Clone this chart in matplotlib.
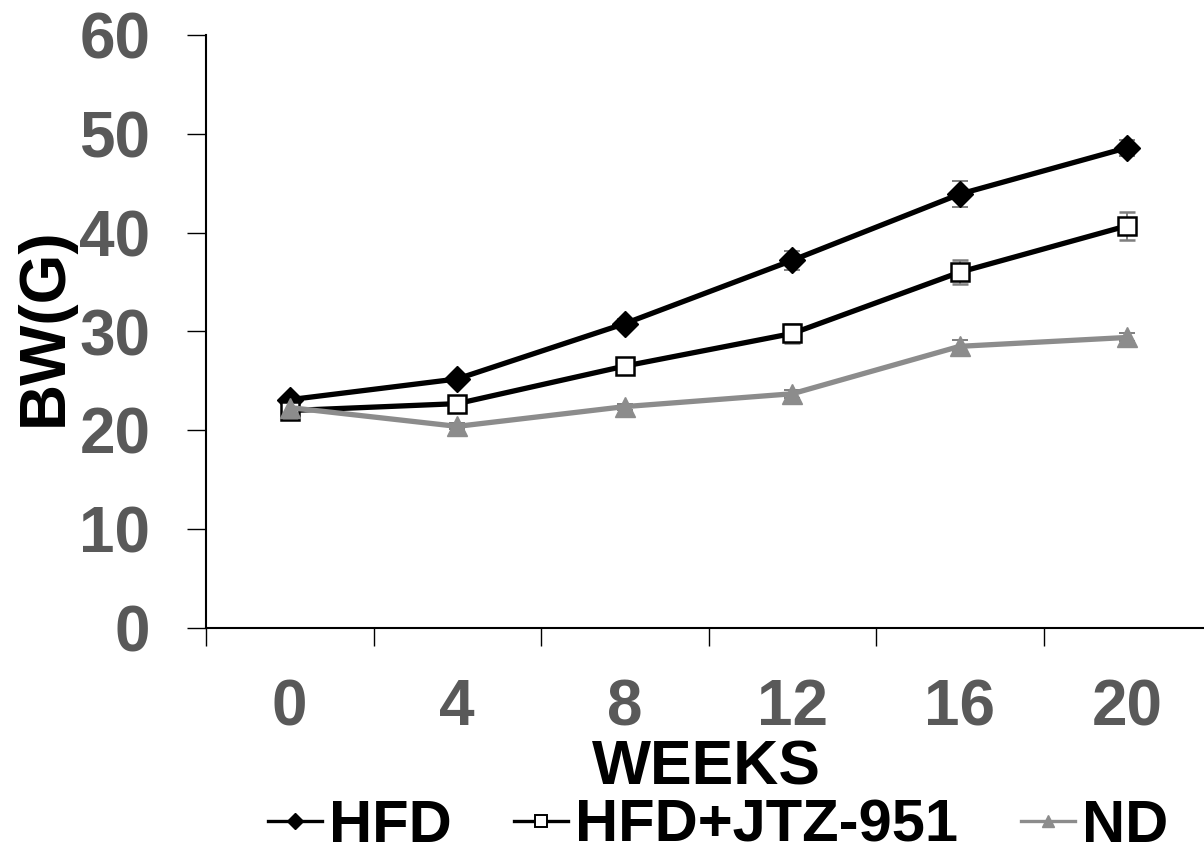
import matplotlib
matplotlib.use("Agg")
import matplotlib.pyplot as plt
from matplotlib.lines import Line2D
import numpy as np

weeks = ["0", "4", "8", "12", "16", "20"]
hfd = [23.1, 25.2, 30.8, 37.2, 43.9, 48.6]
hfd_err = [0.3, 0.3, 0.5, 0.95, 1.3, 0.8]
jtz = [22.0, 22.7, 26.5, 29.8, 36.0, 40.7]
jtz_err = [0.3, 0.3, 0.4, 1.0, 1.2, 1.4]
nd = [22.3, 20.4, 22.4, 23.7, 28.5, 29.4]
nd_err = [0.3, 0.3, 0.3, 0.4, 0.6, 0.4]
series_names = ['HFD', 'HFD+JTZ-951', 'ND']

plt.rcParams['font.family'] = ['Liberation Sans', 'DejaVu Sans']

W, H = 1204, 857
fig = plt.figure(figsize=(W / 100, H / 100), dpi=100)
left, bottom = 206 / W, (H - 628) / H
top = (H - 35) / H
right = 1211 / W
ax = fig.add_axes([left, bottom, right - left, top - bottom])

x = np.arange(len(weeks))
gray_err = '#7f7f7f'
nd_color = '#8c8c8c'

ebkw = dict(ecolor=gray_err, elinewidth=1.4, capsize=5.5, capthick=1.4)
ax.errorbar(x, hfd, yerr=hfd_err, color='black', lw=3.8, marker='D', ms=13,
            mfc='black', mec='black', zorder=3, **ebkw)
ax.errorbar(x, jtz, yerr=jtz_err, color='black', lw=3.8, marker='s', ms=13,
            mfc='white', mec='black', mew=1.8, zorder=3, **ebkw)
ax.errorbar(x, nd, yerr=nd_err, color=nd_color, lw=3.8, marker='^', ms=14,
            mfc=nd_color, mec=nd_color, zorder=3, **ebkw)

ax.set_xlim(-0.5, len(weeks) - 0.5)
ax.set_ylim(0, 60)
ax.set_yticks(np.arange(0, 61, 10))
ax.set_xticks(x)
ax.set_xticklabels(weeks)
ax.set_xticks(np.arange(-0.5, len(weeks), 1.0), minor=True)

for s in ['top', 'right']:
    ax.spines[s].set_visible(False)
for s in ['left', 'bottom']:
    ax.spines[s].set_linewidth(1.5)
    ax.spines[s].set_color('black')

tick_color = '#595959'
ax.tick_params(axis='y', direction='out', length=14, width=1.0, pad=26,
               labelsize=46, labelcolor=tick_color)
ax.tick_params(axis='x', which='major', length=0, pad=36,
               labelsize=46, labelcolor=tick_color)
ax.tick_params(axis='x', which='minor', direction='out', length=13, width=1.0)
for lbl in ax.get_xticklabels() + ax.get_yticklabels():
    lbl.set_fontweight('bold')

fig.text(45 / W, 1 - 327 / H, 'BW(G)', rotation=90, ha='center', va='center',
         fontsize=46, fontweight='bold', color='black')
fig.text(706 / W, 1 - 768 / H, 'WEEKS', ha='center', va='center',
         fontsize=45, fontweight='bold', color='black')

handles = [
    Line2D([], [], color='black', lw=2.4, marker='D', ms=8, mfc='black', mec='black'),
    Line2D([], [], color='black', lw=2.4, marker='s', ms=9, mfc='white', mec='black', mew=1.4),
    Line2D([], [], color=nd_color, lw=2.4, marker='^', ms=9, mfc=nd_color, mec=nd_color),
]
leg = fig.legend(handles, series_names, loc='center', bbox_to_anchor=(718 / W, 1 - 826 / H),
                 ncol=3, frameon=False, prop=dict(size=43, weight='bold'),
                 handlelength=0.9, handletextpad=0.12, columnspacing=1.05,
                 borderpad=0, borderaxespad=0)

fig.savefig('out.png', dpi=100)
